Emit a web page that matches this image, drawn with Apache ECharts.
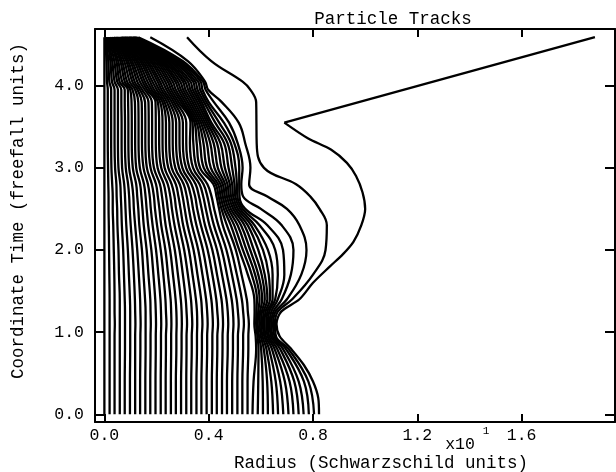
<!DOCTYPE html>
<html>
<head>
<meta charset="utf-8">
<title>Particle Tracks</title>
<script src="https://cdn.jsdelivr.net/npm/echarts@6.0.0/dist/echarts.min.js"></script>
<style>
	html, body { margin: 0; padding: 0; background: #fff; }
	#chart { width: 616px; height: 472px; }
</style>
</head>
<body>
<div id="chart"></div>
<script>
	// tick labels
	var xTicks = [0.0, 0.4, 0.8, 1.2, 1.6];
	var yTicks = [0.0, 1.0, 2.0, 3.0, 4.0];

	var trackTimes = [0, 0.4, 0.8, 0.95, 1.1, 1.25, 1.4, 1.7, 2.0, 2.3, 2.5, 2.65, 2.8, 3.0, 3.3, 3.55, 3.8, 3.95, 4.05, 4.3, 4.59];

	// radius of tracks 0..41 (inner to outer) at each of those times
	var r_00 = [0, .020, .039, .059, .078, .098, .118, .137, .157, .176, .196, .216, .235, .255, .274, .294, .314, .333, .353, .372, .392, .412, .431, .451, .470, .490, .510, .529, .549, .568, .588, .608, .627, .647, .666, .686, .706, .725, .745, .764, .784, .804];
	var r_04 = [0, .020, .039, .059, .078, .098, .118, .137, .157, .176, .196, .216, .235, .255, .274, .294, .314, .333, .353, .372, .392, .412, .431, .451, .470, .490, .510, .529, .549, .572, .590, .607, .624, .640, .657, .674, .692, .710, .728, .745, .765, .782];
	var r_08 = [0, .020, .039, .059, .079, .099, .118, .138, .158, .177, .197, .217, .236, .256, .276, .296, .315, .335, .355, .374, .394, .414, .433, .453, .473, .493, .512, .532, .552, .582, .591, .601, .611, .621, .631, .642, .652, .662, .673, .684, .695, .705];
	var r_095 = [0, .020, .039, .059, .079, .099, .118, .138, .158, .177, .197, .217, .236, .256, .276, .296, .315, .335, .355, .374, .394, .414, .433, .453, .473, .493, .512, .532, .552, .580, .587, .593, .600, .606, .613, .619, .626, .632, .639, .645, .652, .658];
	var r_11 = [0, .020, .040, .059, .079, .099, .119, .139, .158, .178, .198, .218, .238, .257, .277, .297, .317, .337, .356, .376, .396, .416, .436, .455, .475, .495, .515, .535, .554, .575, .582, .588, .595, .601, .608, .614, .621, .627, .634, .640, .647, .654];
	var r_125 = [0, .020, .039, .059, .079, .099, .118, .138, .158, .177, .197, .217, .236, .256, .276, .296, .315, .335, .355, .374, .394, .414, .433, .453, .473, .493, .512, .532, .550, .576, .583, .590, .597, .604, .611, .618, .625, .632, .640, .648, .656, .665];
	var r_14 = [0, .020, .039, .059, .078, .098, .117, .137, .156, .176, .195, .215, .234, .254, .273, .293, .312, .332, .351, .371, .390, .410, .429, .449, .468, .488, .507, .527, .546, .575, .585, .595, .605, .615, .625, .635, .645, .655, .665, .680, .700, .720];
	var r_17 = [0, .019, .038, .056, .075, .094, .113, .132, .150, .169, .188, .207, .226, .244, .263, .282, .301, .320, .338, .357, .376, .395, .414, .432, .451, .470, .489, .508, .526, .550, .565, .578, .590, .603, .615, .630, .645, .665, .690, .715, .755, .800];
	var r_20 = [0, .018, .036, .054, .072, .090, .108, .126, .144, .162, .180, .198, .216, .234, .252, .270, .288, .306, .324, .342, .360, .378, .396, .414, .432, .450, .468, .486, .504, .517, .531, .545, .559, .573, .590, .608, .627, .655, .685, .725, .775, .848];
	var r_23 = [0, .017, .034, .050, .067, .084, .101, .118, .134, .151, .168, .185, .202, .218, .235, .252, .269, .286, .302, .319, .336, .353, .370, .386, .403, .420, .437, .454, .470, .485, .498, .511, .524, .537, .550, .563, .576, .595, .625, .680, .748, .853];
	var r_25 = [0, .016, .032, .049, .065, .081, .097, .113, .130, .146, .162, .178, .194, .211, .227, .243, .259, .275, .292, .308, .324, .340, .356, .373, .389, .405, .421, .440, .449, .458, .467, .476, .485, .494, .503, .512, .521, .530, .540, .600, .700, .825];
	var r_265 = [0, .016, .032, .047, .063, .079, .095, .111, .126, .142, .158, .174, .190, .205, .221, .237, .253, .269, .284, .300, .316, .332, .348, .363, .379, .395, .411, .430, .438, .446, .454, .462, .470, .478, .486, .494, .502, .510, .518, .532, .625, .790];
	var r_28 = [0, .015, .030, .046, .061, .076, .091, .106, .122, .137, .152, .167, .182, .198, .213, .228, .243, .258, .274, .289, .304, .319, .334, .350, .365, .380, .395, .418, .427, .436, .445, .454, .463, .472, .481, .490, .499, .508, .517, .525, .555, .735];
	var r_30 = [0, .014, .027, .041, .054, .068, .082, .095, .109, .122, .136, .150, .163, .177, .190, .204, .218, .231, .245, .258, .272, .286, .299, .313, .326, .340, .354, .367, .381, .394, .408, .422, .435, .449, .462, .476, .490, .503, .517, .530, .560, .612];
	var r_33 = [0, .013, .026, .039, .052, .066, .079, .092, .105, .118, .131, .144, .157, .170, .183, .197, .210, .223, .236, .249, .262, .275, .288, .301, .314, .328, .341, .354, .367, .380, .393, .406, .419, .432, .445, .459, .472, .485, .498, .511, .540, .584];
	var r_355 = [0, .013, .026, .039, .052, .066, .079, .092, .105, .118, .131, .144, .157, .170, .183, .197, .210, .223, .236, .249, .262, .275, .288, .301, .314, .330, .338, .346, .354, .362, .370, .378, .386, .394, .402, .410, .425, .440, .458, .478, .515, .583];
	var r_38 = [0, .013, .026, .039, .052, .065, .078, .091, .104, .117, .130, .143, .156, .169, .182, .196, .205, .214, .223, .231, .240, .249, .258, .267, .276, .285, .294, .302, .311, .320, .329, .338, .347, .356, .365, .373, .382, .391, .400, .420, .450, .582];
	var r_395 = [0, .013, .026, .039, .052, .065, .078, .090, .099, .108, .118, .127, .136, .145, .155, .164, .173, .182, .191, .201, .210, .219, .228, .238, .247, .256, .265, .274, .284, .293, .302, .311, .321, .330, .339, .348, .357, .367, .376, .388, .398, .560];
	var r_405 = [0, .010, .019, .029, .039, .049, .058, .068, .078, .087, .097, .107, .116, .126, .136, .146, .155, .165, .175, .184, .194, .204, .213, .223, .233, .243, .252, .262, .272, .281, .291, .301, .310, .320, .330, .340, .349, .359, .369, .378, .386, .530];
	var r_43 = [0, .008, .015, .023, .030, .038, .046, .053, .061, .068, .076, .084, .091, .099, .106, .114, .122, .129, .137, .144, .152, .160, .167, .175, .182, .190, .198, .205, .213, .220, .228, .236, .243, .251, .258, .266, .274, .281, .289, .300, .320, .410];
	var r_459 = [0, .003, .006, .010, .013, .016, .019, .022, .026, .029, .032, .035, .038, .042, .045, .048, .051, .054, .058, .061, .064, .067, .070, .074, .077, .080, .083, .086, .090, .093, .096, .099, .102, .106, .109, .112, .115, .118, .122, .130, .176, .317];

	var radiusRows = [r_00, r_04, r_08, r_095, r_11, r_125, r_14, r_17, r_20, r_23, r_25, r_265, r_28, r_30, r_33, r_355, r_38, r_395, r_405, r_43, r_459];

	// outermost track: [radius, time], bends back and then shoots out
	var trackACurve = [[0.823, 0], [0.82, 0.2], [0.80, 0.4], [0.765, 0.6], [0.715, 0.8], [0.672, 0.95], [0.660, 1.1], [0.678, 1.25], [0.748, 1.4], [0.80, 1.6], [0.865, 1.8], [0.915, 1.95], [0.955, 2.1], [0.985, 2.3], [1.0, 2.5], [0.99, 2.7], [0.965, 2.9], [0.93, 3.06], [0.87, 3.22], [0.78, 3.36], [0.69, 3.55]];
	var trackALine = [[0.69, 3.55], [1.881, 4.59]];

	var monoFont = '"Liberation Mono", "DejaVu Sans Mono", monospace';

	function trackLine(pts, smooth) {
		return {
			type: 'line',
			data: pts,
			smooth: smooth,
			symbol: 'none',
			silent: true,
			lineStyle: { color: '#000', width: 2.3 }
		};
	}

	var series = [];
	for (var k = 0; k < r_00.length; k++) {
		var pts = [];
		for (var j = 0; j < trackTimes.length; j++) {
			pts.push([radiusRows[j][k], trackTimes[j]]);
		}
		series.push(trackLine(pts, 0.4));
	}
	series.push(trackLine(trackACurve, 0.3));
	series.push(trackLine(trackALine, false));

	// frame axes, ticks point inwards
	function frameAxis(pos, min, max, ticks, tickLen, label) {
		return {
			type: 'value',
			position: pos,
			min: min,
			max: max,
			axisLine: { show: true, onZero: false, lineStyle: { color: '#000', width: 2 } },
			axisTick: { show: true, inside: true, length: tickLen, customValues: ticks, lineStyle: { color: '#000', width: 2 } },
			axisLabel: label ? {
				show: true,
				customValues: ticks,
				formatter: function(v) { return Number(v).toFixed(1); },
				color: '#000',
				fontFamily: monoFont,
				fontSize: 16.5,
				margin: label
			} : { show: false },
			splitLine: { show: false }
		};
	}

	var option = {
		animation: false,
		backgroundColor: '#fff',
		grid: { left: 95, right: 1, top: 29, bottom: 50 },
		xAxis: [
			frameAxis('bottom', -0.036, 1.958, xTicks, 8, 5),
			frameAxis('top', -0.036, 1.958, xTicks, 8, 0)
		],
		yAxis: [
			frameAxis('left', -0.094, 4.69, yTicks, 10, 11),
			frameAxis('right', -0.094, 4.69, yTicks, 10, 0)
		],
		graphic: [
			{ type: 'text', x: 393, y: 19, style: { text: 'Particle Tracks', font: '17.5px ' + monoFont, fill: '#000', align: 'center', verticalAlign: 'middle' } },
			{ type: 'text', x: 381, y: 463, style: { text: 'Radius (Schwarzschild units)', font: '17.5px ' + monoFont, fill: '#000', align: 'center', verticalAlign: 'middle' } },
			{ type: 'text', x: 460, y: 445, style: { text: 'x10', font: '16.5px ' + monoFont, fill: '#000', align: 'center', verticalAlign: 'middle' } },
			{ type: 'text', x: 486, y: 431, style: { text: '1', font: '11px ' + monoFont, fill: '#000', align: 'center', verticalAlign: 'middle' } },
			{ type: 'text', x: 18, y: 211, rotation: Math.PI / 2, style: { text: 'Coordinate Time (freefall units)', font: '17.5px ' + monoFont, fill: '#000', align: 'center', verticalAlign: 'middle' } }
		],
		series: series
	};

	var myChart = echarts.init(document.getElementById('chart'));
	myChart.setOption(option);
</script>
</body>
</html>
